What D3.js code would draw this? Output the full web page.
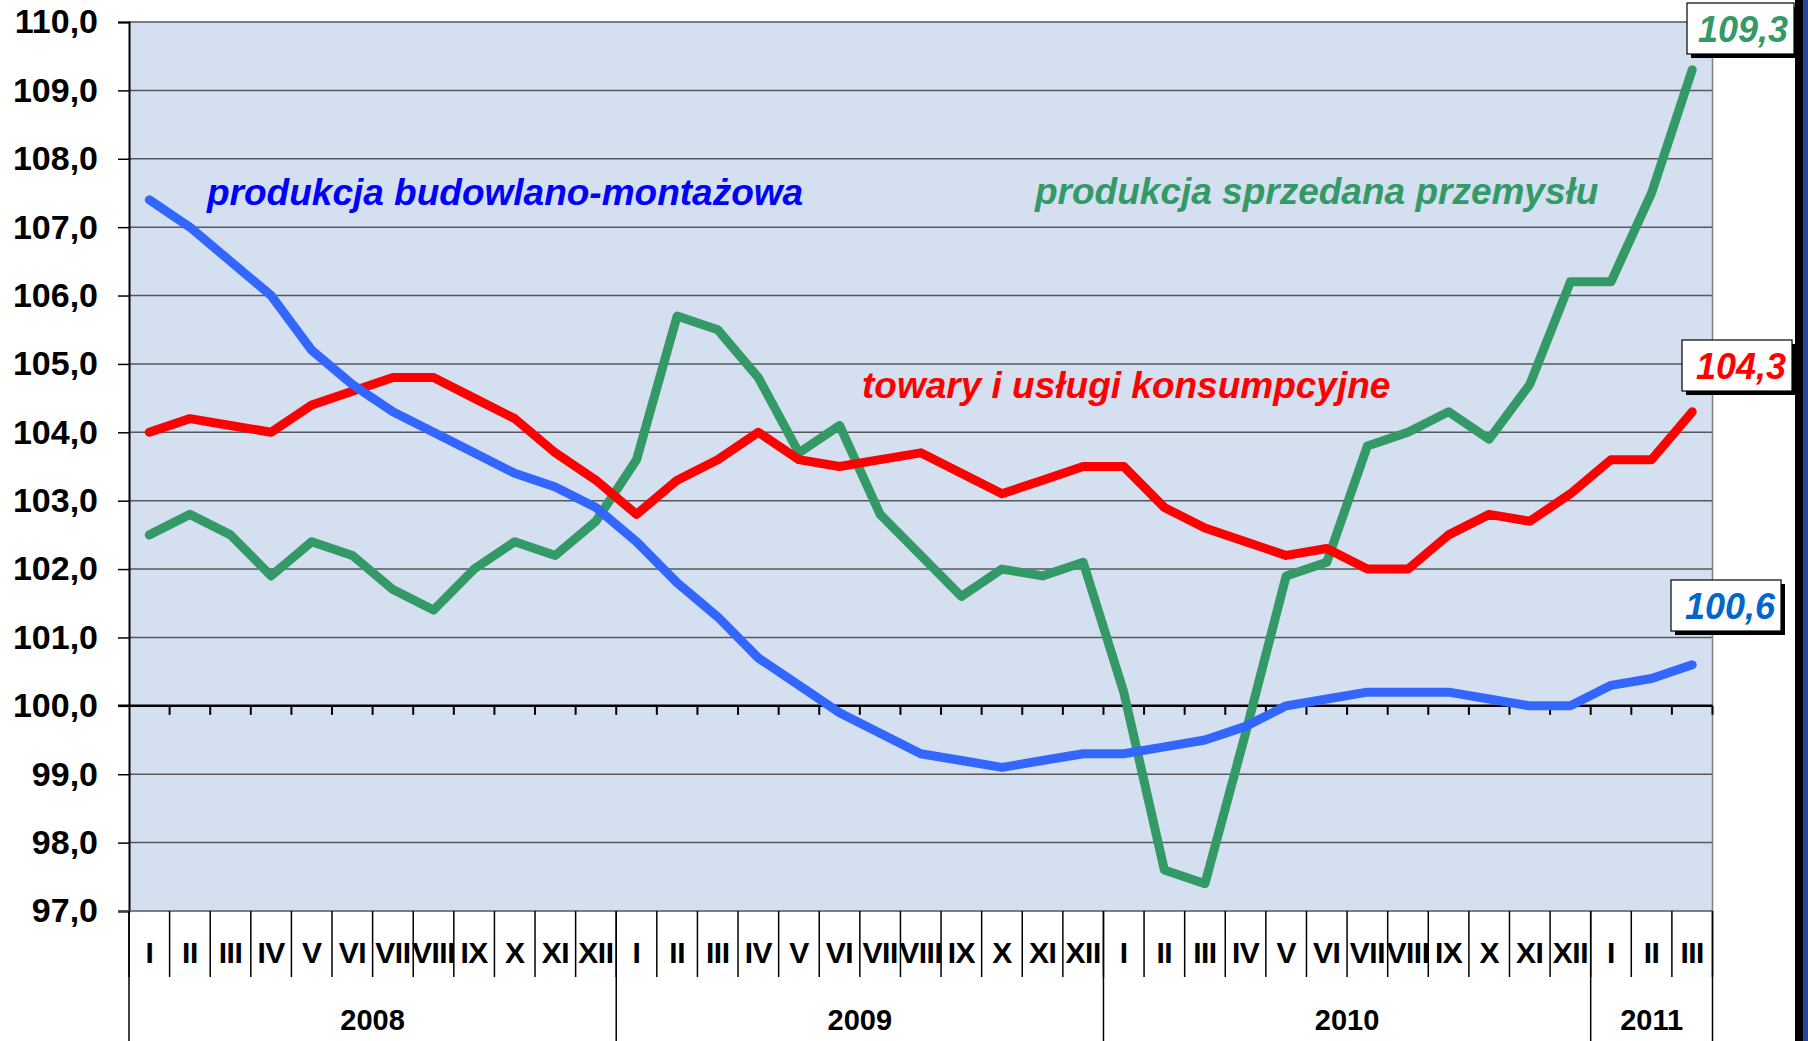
<!DOCTYPE html>
<meta charset="utf-8">
<style>
  body { margin: 0; background: #fff; }
  text { font-family: Arial, "Liberation Sans", sans-serif; font-weight: bold; }
</style>
<script src="https://d3js.org/d3.v7.min.js"></script>
<div id="chart"></div>
<script>

// month labels and years
var months = ["I","II","III","IV","V","VI","VII","VIII","IX","X","XI","XII",
              "I","II","III","IV","V","VI","VII","VIII","IX","X","XI","XII",
              "I","II","III","IV","V","VI","VII","VIII","IX","X","XI","XII",
              "I","II","III"];
var years = ["2008", "2009", "2010", "2011"];
var yearLengths = [12, 12, 12, 3];

var yTicks = [97,98,99,100,101,102,103,104,105,106,107,108,109,110];

// series values (indices, same month = 100)
var budowlana = [107.4,107.0,106.5,106.0,105.2,104.7,104.3,104.0,103.7,103.4,103.2,102.9,
                 102.4,101.8,101.3,100.7,100.3,99.9,99.6,99.3,99.2,99.1,99.2,99.3,
                 99.3,99.4,99.5,99.7,100.0,100.1,100.2,100.2,100.2,100.1,100.0,100.0,
                 100.3,100.4,100.6];
var przemysl = [102.5,102.8,102.5,101.9,102.4,102.2,101.7,101.4,102.0,102.4,102.2,102.7,
                103.6,105.7,105.5,104.8,103.7,104.1,102.8,102.2,101.6,102.0,101.9,102.1,
                100.2,97.6,97.4,99.6,101.9,102.1,103.8,104.0,104.3,103.9,104.7,106.2,
                106.2,107.5,109.3];
var konsumpcja = [104.0,104.2,104.1,104.0,104.4,104.6,104.8,104.8,104.5,104.2,103.7,103.3,
                  102.8,103.3,103.6,104.0,103.6,103.5,103.6,103.7,103.4,103.1,103.3,103.5,
                  103.5,102.9,102.6,102.4,102.2,102.3,102.0,102.0,102.5,102.8,102.7,103.1,
                  103.6,103.6,104.3];

var W = 1808, H = 1041;
var plotL = 129, plotR = 1712.5, plotT = 22, plotB = 911;

var svg = d3.select("#chart").append("svg")
    .attr("width", W).attr("height", H);

var x = d3.scaleBand()
  .domain(d3.range(months.length))
  .range([plotL, plotR])
  .padding(0);

var y = d3.scaleLinear()
  .domain([97, 110])
  .range([plotB, plotT]);

// plot area background
svg.append("rect")
  .attr("x", plotL).attr("y", plotT)
  .attr("width", plotR - plotL).attr("height", plotB - plotT)
  .attr("fill", "#D4DFEF");

// horizontal grid
svg.append("g")
  .selectAll("line")
  .data(yTicks.filter(function(d) { return d != 100 && d != 97; }))
  .enter().append("line")
    .attr("x1", plotL).attr("x2", plotR)
    .attr("y1", function(d) { return y(d); })
    .attr("y2", function(d) { return y(d); })
    .attr("stroke", "#55585e")
    .attr("stroke-width", 1.5);

// right border
svg.append("line")
  .attr("x1", plotR).attr("x2", plotR).attr("y1", plotT).attr("y2", plotB)
  .attr("stroke", "#808080").attr("stroke-width", 1.5);

// Y axis
var yAxis = svg.append("g")
  .attr("transform", "translate(" + plotL + ",0)")
  .call(d3.axisLeft(y)
    .tickValues(yTicks)
    .tickSize(11)
    .tickPadding(20)
    .tickFormat(function(d) { return d3.format(".1f")(d).replace(".", ","); }));
yAxis.select(".domain").attr("stroke", "#000").attr("stroke-width", 2);
yAxis.selectAll(".tick line").attr("stroke", "#000").attr("stroke-width", 1.5);
yAxis.selectAll("text")
  .attr("font-size", 34)
  .attr("fill", "#000")
  .style("font-family", "Arial, 'Liberation Sans', sans-serif")
  .style("font-weight", "bold");

// the 100 line, with month ticks
var boundaries = d3.range(months.length + 1).map(function(i) {
  return i < months.length ? x(i) : plotR;
});
svg.append("line")
  .attr("x1", plotL - 11).attr("x2", plotR)
  .attr("y1", y(100)).attr("y2", y(100))
  .attr("stroke", "#000").attr("stroke-width", 2.5);
svg.append("g")
  .selectAll("line")
  .data(boundaries.slice(1))
  .enter().append("line")
    .attr("x1", function(d) { return d; })
    .attr("x2", function(d) { return d; })
    .attr("y1", y(100)).attr("y2", y(100) + 9)
    .attr("stroke", "#000").attr("stroke-width", 2);

// bottom line of plot
svg.append("line")
  .attr("x1", plotL - 11).attr("x2", plotR)
  .attr("y1", plotB).attr("y2", plotB)
  .attr("stroke", "#55585e").attr("stroke-width", 1.5);

// month separators + labels
svg.append("g")
  .selectAll("line")
  .data(boundaries)
  .enter().append("line")
    .attr("x1", function(d) { return d; })
    .attr("x2", function(d) { return d; })
    .attr("y1", plotB).attr("y2", 977)
    .attr("stroke", "#000").attr("stroke-width", 1.5);

svg.append("g")
  .selectAll("text")
  .data(months)
  .enter().append("text")
    .attr("x", function(d, i) { return x(i) + x.bandwidth() / 2; })
    .attr("y", 963)
    .attr("text-anchor", "middle")
    .attr("font-size", 30)
    .attr("letter-spacing", -0.5)
    .text(function(d) { return d; });

// year separators + labels
var yearStart = [0];
yearLengths.forEach(function(n, i) { yearStart.push(yearStart[i] + n); });
svg.append("g")
  .selectAll("line")
  .data(yearStart)
  .enter().append("line")
    .attr("x1", function(d) { return d < months.length ? x(d) : plotR; })
    .attr("x2", function(d) { return d < months.length ? x(d) : plotR; })
    .attr("y1", plotB).attr("y2", H)
    .attr("stroke", "#000").attr("stroke-width", 1.5);

svg.append("g")
  .selectAll("text")
  .data(years)
  .enter().append("text")
    .attr("x", function(d, i) {
      var a = x(yearStart[i]);
      var b = yearStart[i + 1] < months.length ? x(yearStart[i + 1]) : plotR;
      return (a + b) / 2;
    })
    .attr("y", 1030)
    .attr("text-anchor", "middle")
    .attr("font-size", 29)
    .text(function(d) { return d; });

// lines
var line = d3.line()
  .x(function(d, i) { return x(i) + x.bandwidth() / 2; })
  .y(function(d) { return y(d); });

var series = [
  { values: przemysl, color: "#339966" },
  { values: konsumpcja, color: "#FF0000" },
  { values: budowlana, color: "#3366FF" }
];
series.forEach(function(s) {
  svg.append("path")
    .datum(s.values)
    .attr("fill", "none")
    .attr("stroke", s.color)
    .attr("stroke-width", 9)
    .attr("stroke-linejoin", "round")
    .attr("stroke-linecap", "round")
    .attr("d", line);
});

// series names
var names = [
  { text: "produkcja budowlano-montażowa", x: 207, y: 205, color: "#0000FF" },
  { text: "produkcja sprzedana przemysłu", x: 1035, y: 204, color: "#339966" },
  { text: "towary i usługi konsumpcyjne", x: 862, y: 398, color: "#FF0000" }
];
svg.append("g")
  .selectAll("text")
  .data(names)
  .enter().append("text")
    .attr("x", function(d) { return d.x; })
    .attr("y", function(d) { return d.y; })
    .attr("font-size", 37)
    .attr("font-style", "italic")
    .attr("fill", function(d) { return d.color; })
    .text(function(d) { return d.text; });

// end value boxes
var last = months.length - 1;
var boxes = [
  { v: przemysl[last], color: "#339966", x: 1687, y: 3, w: 107 },
  { v: konsumpcja[last], color: "#FF0000", x: 1682, y: 340, w: 110 },
  { v: budowlana[last], color: "#0066CC", x: 1671, y: 580, w: 110 }
];
var bg = svg.append("g").selectAll("g").data(boxes).enter().append("g");
bg.append("rect")
  .attr("x", function(d) { return d.x + 4; })
  .attr("y", function(d) { return d.y + 4; })
  .attr("width", function(d) { return d.w; })
  .attr("height", 51)
  .attr("fill", "#000");
bg.append("rect")
  .attr("x", function(d) { return d.x; })
  .attr("y", function(d) { return d.y; })
  .attr("width", function(d) { return d.w; })
  .attr("height", 51)
  .attr("fill", "#fff")
  .attr("stroke", "#000")
  .attr("stroke-width", 1.2);
bg.append("text")
  .attr("x", function(d) { return d.x + d.w - 6; })
  .attr("y", function(d) { return d.y + 39; })
  .attr("text-anchor", "end")
  .attr("font-size", 36)
  .attr("font-style", "italic")
  .attr("fill", function(d) { return d.color; })
  .text(function(d) { return d3.format(".1f")(d.v).replace(".", ","); });

// right edge frame
svg.append("rect").attr("x", 1795).attr("y", 0).attr("width", 8).attr("height", H).attr("fill", "#000");
svg.append("rect").attr("x", 1803).attr("y", 0).attr("width", 5).attr("height", H).attr("fill", "#25469A");

</script>
